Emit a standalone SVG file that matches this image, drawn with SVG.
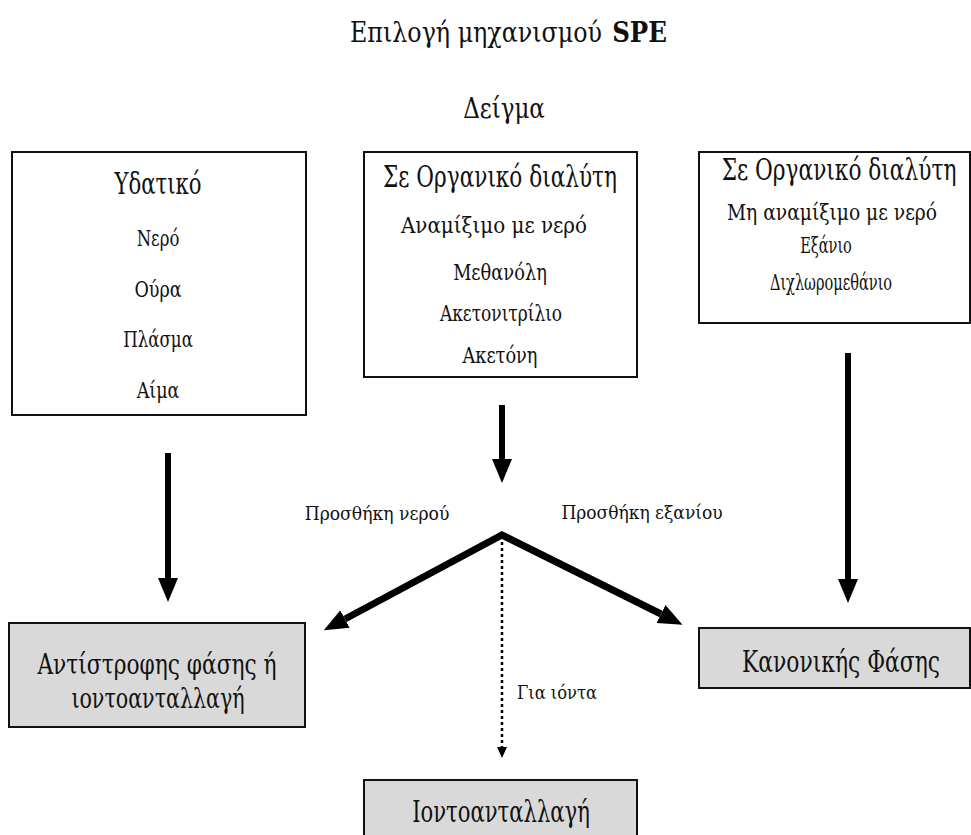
<svg xmlns="http://www.w3.org/2000/svg" width="971" height="835" viewBox="0 0 971 835">
  <style>
    text { font-family: "DejaVu Serif", "Liberation Serif", serif; fill: #111; text-anchor: middle; }
    .title { font-size: 27px; }
    .head { font-size: 29px; }
    .item { font-size: 23px; }
    .label { font-size: 19px; }
    .result { font-size: 30px; }
    .result2 { font-size: 28px; }
    .box { fill: #fff; stroke: #111; stroke-width: 2; }
    .gray { fill: #d9d9d9; stroke: #111; stroke-width: 2; }
    .shaft { fill: none; stroke: #000; stroke-width: 6; }
    .diag { fill: none; stroke: #000; stroke-width: 7; stroke-linejoin: miter; }
    .dots { fill: none; stroke: #000; stroke-width: 2.5; stroke-dasharray: 3 3; }
  </style>
  <defs>
    <marker id="tri" markerUnits="userSpaceOnUse" markerWidth="26" markerHeight="22" refX="0" refY="10" orient="auto-start-reverse" viewBox="0 0 26 20">
      <path d="M0,0 L24,10 L0,20 Z" fill="#000"/>
    </marker>
  </defs>

  <rect width="971" height="835" fill="#fff"/>

  <!-- headings: glyphs are narrowed with a horizontal scale of 0.75 -->
  <g id="heading">
    <text class="title" transform="translate(476,42) scale(0.75,1)" textLength="336" lengthAdjust="spacingAndGlyphs">Επιλογή μηχανισμού</text>
    <text class="title" transform="translate(639.5,42) scale(0.75,1)" font-family="Liberation Serif" font-weight="bold" font-size="30" textLength="73" lengthAdjust="spacingAndGlyphs">SPE</text>
  </g>
  <g id="sample">
    <text class="title" transform="translate(504,118) scale(0.75,1)" textLength="109" lengthAdjust="spacingAndGlyphs">Δείγμα</text>
  </g>

  <!-- sample types -->
  <g id="aqueous">
    <rect class="box" x="12" y="152" width="294" height="263"/>
    <text class="head" transform="translate(158,194) scale(0.75,1)" textLength="116" lengthAdjust="spacingAndGlyphs">Υδατικό</text>
    <text class="item" transform="translate(158,246) scale(0.75,1)" textLength="57" lengthAdjust="spacingAndGlyphs">Νερό</text>
    <text class="item" transform="translate(158,297) scale(0.75,1)" textLength="63" lengthAdjust="spacingAndGlyphs">Ούρα</text>
    <text class="item" transform="translate(158,347) scale(0.75,1)" textLength="93" lengthAdjust="spacingAndGlyphs">Πλάσμα</text>
    <text class="item" transform="translate(158,398) scale(0.75,1)" textLength="57" lengthAdjust="spacingAndGlyphs">Αίμα</text>
  </g>

  <g id="organic-miscible">
    <rect class="box" x="364" y="152" width="273" height="225"/>
    <text class="head" transform="translate(500,187) scale(0.75,1)" textLength="312" lengthAdjust="spacingAndGlyphs">Σε Οργανικό διαλύτη</text>
    <text class="item" transform="translate(494,233) scale(0.75,1)" textLength="248" lengthAdjust="spacingAndGlyphs">Αναμίξιμο με νερό</text>
    <text class="item" transform="translate(500,280) scale(0.75,1)" textLength="125" lengthAdjust="spacingAndGlyphs">Μεθανόλη</text>
    <text class="item" transform="translate(501,321) scale(0.75,1)" textLength="163" lengthAdjust="spacingAndGlyphs">Ακετονιτρίλιο</text>
    <text class="item" transform="translate(500,363) scale(0.75,1)" textLength="100" lengthAdjust="spacingAndGlyphs">Ακετόνη</text>
  </g>

  <g id="organic-immiscible">
    <rect class="box" x="699" y="152" width="271" height="171"/>
    <text class="head" transform="translate(839,180) scale(0.75,1)" textLength="313" lengthAdjust="spacingAndGlyphs">Σε Οργανικό διαλύτη</text>
    <text class="item" transform="translate(832,220) scale(0.75,1)" textLength="280" lengthAdjust="spacingAndGlyphs">Μη αναμίξιμο με νερό</text>
    <text class="item" transform="translate(826,253) scale(0.75,1)" textLength="69" lengthAdjust="spacingAndGlyphs">Εξάνιο</text>
    <text class="item" transform="translate(831,290) scale(0.75,1)" textLength="163" lengthAdjust="spacingAndGlyphs">Διχλωρομεθάνιο</text>
  </g>

  <!-- SPE modes -->
  <g id="reversed-phase">
    <rect class="gray" x="9" y="623" width="296" height="104"/>
    <text class="result2" transform="translate(157,674) scale(0.75,1)" textLength="319" lengthAdjust="spacingAndGlyphs">Αντίστροφης φάσης ή</text>
    <text class="result2" transform="translate(158,708) scale(0.75,1)" textLength="231" lengthAdjust="spacingAndGlyphs">ιοντοανταλλαγή</text>
  </g>

  <g id="normal-phase">
    <rect class="gray" x="699" y="628" width="271" height="60"/>
    <text class="result" transform="translate(841,672) scale(0.75,1)" textLength="264" lengthAdjust="spacingAndGlyphs">Κανονικής Φάσης</text>
  </g>

  <g id="ion-exchange">
    <rect class="gray" x="364" y="780" width="273" height="70"/>
    <text class="result" transform="translate(501,822) scale(0.75,1)" textLength="237" lengthAdjust="spacingAndGlyphs">Ιοντοανταλλαγή</text>
  </g>

  <!-- connectors -->
  <g id="connectors">
    <path class="shaft" d="M168,453 V578" marker-end="url(#tri)"/>
    <path class="shaft" d="M502,405 V459" marker-end="url(#tri)"/>
    <path class="shaft" d="M848,353 V579" marker-end="url(#tri)"/>
    <path class="diag" d="M345,619 L502,535 L661,614" marker-start="url(#tri)" marker-end="url(#tri)"/>
    <path class="dots" d="M502,542 V747"/>
    <path d="M497,747 L507,747 L502,758 Z" fill="#000"/>
    <text class="label" transform="translate(377,520) scale(0.75,1)" textLength="193" lengthAdjust="spacingAndGlyphs">Προσθήκη νερού</text>
    <text class="label" transform="translate(642,519) scale(0.75,1)" textLength="215" lengthAdjust="spacingAndGlyphs">Προσθήκη εξανίου</text>
    <text class="label" transform="translate(557,699) scale(0.75,1)" textLength="107" lengthAdjust="spacingAndGlyphs">Για ιόντα</text>
  </g>
</svg>
